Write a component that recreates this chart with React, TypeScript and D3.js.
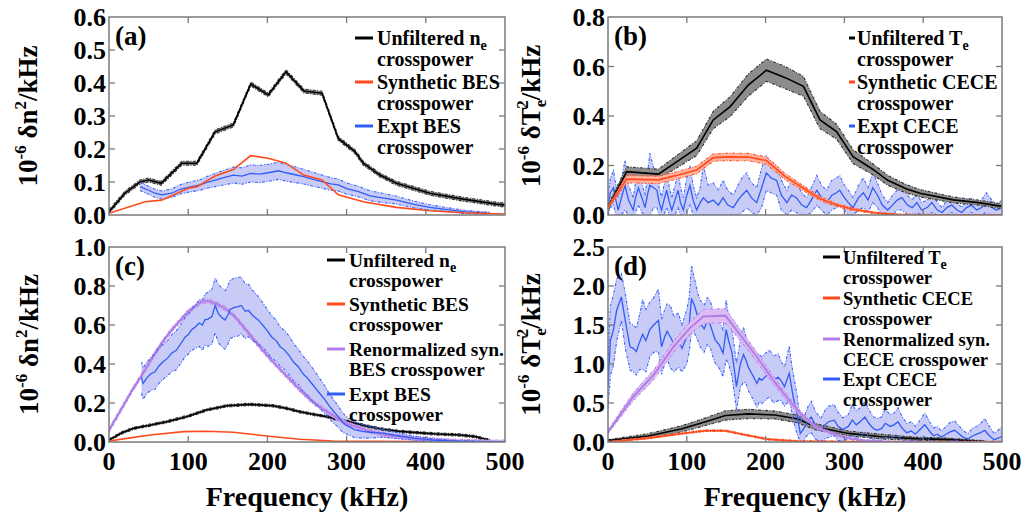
import React from 'react';
import * as d3 from 'd3';

const freqTicks = [0, 100, 200, 300, 400, 500];

// (a) density crosspower, 10^-6 dn^2/kHz
const aYTicks = [0, 0.1, 0.2, 0.3, 0.4, 0.5, 0.6];
const aUnfX = [0, 20, 39, 50, 66, 92, 111, 134, 157, 179, 201, 223.5, 246, 269, 289.5, 310.6, 321, 342, 363, 405, 447, 489, 500];
const aUnfY = [0.01, 0.066, 0.1, 0.106, 0.096, 0.157, 0.157, 0.252, 0.273, 0.397, 0.364, 0.434, 0.376, 0.369, 0.232, 0.192, 0.157, 0.121, 0.096, 0.066, 0.048, 0.033, 0.03];
const aUnfErr = 0.006;
const aSynX = [0, 45.5, 66.5, 100, 111, 134, 157, 179, 201, 223.5, 246, 269, 289.5, 321, 363, 405, 447, 500];
const aSynY = [0.005, 0.04, 0.045, 0.081, 0.086, 0.118, 0.138, 0.18, 0.172, 0.157, 0.121, 0.106, 0.061, 0.04, 0.023, 0.013, 0.007, 0.003];
const aExpX = [39, 50, 58, 66.5, 79, 90, 100, 115, 125, 134, 145, 157, 168, 179, 190, 201, 214, 223.5, 235, 246, 258, 269, 280, 289.5, 300, 315, 330, 345, 363, 385, 405, 425, 447, 465, 481];
const aExpY = [0.086, 0.075, 0.066, 0.061, 0.066, 0.078, 0.084, 0.091, 0.1, 0.106, 0.113, 0.121, 0.118, 0.126, 0.124, 0.128, 0.134, 0.128, 0.122, 0.116, 0.108, 0.101, 0.094, 0.091, 0.08, 0.071, 0.058, 0.052, 0.045, 0.032, 0.023, 0.017, 0.01, 0.007, 0.005];
const aExpErr = [0.012, 0.012, 0.012, 0.012, 0.013, 0.014, 0.015, 0.016, 0.018, 0.02, 0.022, 0.024, 0.025, 0.026, 0.026, 0.026, 0.026, 0.025, 0.024, 0.022, 0.021, 0.02, 0.019, 0.018, 0.017, 0.016, 0.015, 0.014, 0.012, 0.01, 0.008, 0.006, 0.005, 0.004, 0.003];

// (b) temperature crosspower, 10^-6 dTe^2/kHz
const bYTicks = [0, 0.2, 0.4, 0.6, 0.8];
const bUnfX = [0, 23.7, 64, 87, 112.5, 133.6, 155, 178, 201, 225, 248, 269, 290, 311, 336, 355, 379, 396, 438, 470, 500];
const bUnfY = [0.03, 0.175, 0.165, 0.215, 0.27, 0.384, 0.438, 0.525, 0.585, 0.555, 0.52, 0.384, 0.337, 0.236, 0.185, 0.14, 0.105, 0.088, 0.061, 0.05, 0.035];
const bUnfErr = [0.01, 0.02, 0.02, 0.025, 0.03, 0.035, 0.04, 0.045, 0.045, 0.045, 0.04, 0.035, 0.03, 0.028, 0.022, 0.02, 0.017, 0.015, 0.012, 0.01, 0.01];
const bSynX = [0, 23.7, 64, 87, 112.5, 133.6, 155, 178, 201, 225, 248, 269, 290, 311, 340, 368, 420, 500];
const bSynY = [0.03, 0.145, 0.142, 0.16, 0.182, 0.232, 0.235, 0.234, 0.22, 0.155, 0.108, 0.067, 0.04, 0.023, 0.008, 0.002, 0.001, 0.001];
const bSynErr = [0.005, 0.015, 0.015, 0.015, 0.015, 0.015, 0.015, 0.015, 0.015, 0.012, 0.01, 0.008, 0.006, 0.005, 0.003, 0.002, 0.001, 0.001];
const bExpX = [0, 3, 7, 10, 13, 17, 21.6, 26, 32, 35, 38.5, 43, 47, 50, 53, 58, 62, 65, 68, 71, 74.5, 78, 81, 85, 89, 92, 95.6, 100, 104, 108, 112.5, 117, 121, 127, 133.7, 140, 146, 152, 159, 165, 170, 176, 182, 188.7, 195, 201, 207, 214, 220, 227, 233, 239, 246, 252, 258, 265, 271, 277.5, 284, 290, 294, 300, 305, 311, 318, 324, 330, 336, 342, 348, 355, 361, 367, 373, 380, 386, 392, 398, 405, 411, 418, 424, 430, 436, 443, 449, 455, 461, 468, 474, 480, 487, 493, 500];
const bExpY = [0.04, 0.09, 0.11, 0.06, 0.02, 0.07, 0.12, 0.06, 0.02, 0.07, 0.11, 0.07, 0.03, 0.08, 0.12, 0.11, 0.1, 0.05, 0.02, 0.06, 0.1, 0.05, 0.02, 0.06, 0.1, 0.05, 0.02, 0.08, 0.12, 0.06, 0.02, 0.05, 0.07, 0.05, 0.06, 0.04, 0.07, 0.04, 0.03, 0.06, 0.08, 0.1, 0.07, 0.05, 0.11, 0.17, 0.15, 0.14, 0.08, 0.05, 0.08, 0.07, 0.04, 0.03, 0.06, 0.1, 0.07, 0.05, 0.08, 0.09, 0.1, 0.07, 0.05, 0.03, 0.07, 0.09, 0.06, 0.11, 0.08, 0.04, 0.02, 0.04, 0.06, 0.07, 0.04, 0.03, 0.05, 0.02, 0.03, 0.05, 0.02, 0.01, 0.03, 0.04, 0.02, 0.01, 0.03, 0.04, 0.02, 0.03, 0.05, 0.03, 0.02, 0.03];
const bExpErr = [0.04, 0.06, 0.07, 0.06, 0.05, 0.07, 0.1, 0.06, 0.05, 0.06, 0.07, 0.06, 0.05, 0.08, 0.13, 0.08, 0.07, 0.06, 0.05, 0.06, 0.07, 0.06, 0.05, 0.06, 0.07, 0.06, 0.05, 0.07, 0.08, 0.06, 0.05, 0.06, 0.13, 0.07, 0.07, 0.06, 0.07, 0.06, 0.05, 0.06, 0.07, 0.07, 0.06, 0.06, 0.08, 0.07, 0.06, 0.06, 0.06, 0.05, 0.06, 0.06, 0.05, 0.04, 0.05, 0.06, 0.05, 0.05, 0.06, 0.06, 0.06, 0.05, 0.05, 0.04, 0.05, 0.06, 0.05, 0.06, 0.05, 0.04, 0.03, 0.04, 0.04, 0.05, 0.04, 0.03, 0.04, 0.03, 0.03, 0.04, 0.03, 0.02, 0.03, 0.03, 0.03, 0.02, 0.03, 0.03, 0.02, 0.03, 0.04, 0.03, 0.02, 0.03];

// (c) density crosspower with renormalized synthetic
const cYTicks = [0, 0.2, 0.4, 0.6, 0.8, 1.0];
const cUnfX = [0, 15, 31, 50, 73, 98, 123, 149, 178, 207, 225, 241, 258, 275, 290, 308, 325, 346, 365, 388, 410, 443, 462, 477, 481];
const cUnfY = [0.01, 0.045, 0.07, 0.085, 0.104, 0.13, 0.164, 0.186, 0.193, 0.186, 0.172, 0.155, 0.142, 0.13, 0.115, 0.099, 0.082, 0.065, 0.055, 0.048, 0.042, 0.036, 0.028, 0.012, 0.01];
const cUnfErr = 0.006;
const cSynX = [0, 25, 52, 94, 123, 157, 199, 241, 283, 330, 400, 500];
const cSynY = [0.005, 0.02, 0.036, 0.053, 0.055, 0.05, 0.031, 0.014, 0.005, 0.003, 0.002, 0.001];
const cRenX = [0, 10, 20, 30, 41, 50, 58, 68, 79, 90, 100, 110, 117, 125, 135, 146.5, 159, 170, 180, 192, 205, 218, 231, 243, 256, 268, 281, 300, 325, 350, 388, 431, 470, 500];
const cRenY = [0.06, 0.13, 0.2, 0.27, 0.34, 0.4, 0.455, 0.515, 0.574, 0.624, 0.668, 0.7, 0.72, 0.723, 0.71, 0.686, 0.643, 0.59, 0.54, 0.48, 0.42, 0.365, 0.31, 0.26, 0.21, 0.175, 0.14, 0.095, 0.06, 0.035, 0.018, 0.005, 0.001, 0];
const cRenErr = 0.01;
const cExpX = [41, 43, 48, 53, 58, 63, 68, 74, 79, 85, 90, 96.5, 100, 104, 109, 114, 118, 121, 125, 130, 134, 138, 142, 146.5, 150, 153, 158, 163, 167, 172, 176, 181, 188.5, 194, 200, 205, 211, 216, 222, 228, 233, 239, 245, 250, 256, 262, 267, 273, 278, 284, 289.5, 295, 300, 310.6, 320, 330, 346, 365, 385, 409, 440, 470, 500];
const cExpY = [0.33, 0.3, 0.33, 0.35, 0.36, 0.39, 0.41, 0.43, 0.455, 0.47, 0.5, 0.54, 0.55, 0.574, 0.59, 0.61, 0.6, 0.626, 0.63, 0.643, 0.7, 0.66, 0.64, 0.626, 0.65, 0.68, 0.69, 0.694, 0.7, 0.67, 0.675, 0.65, 0.626, 0.6, 0.57, 0.54, 0.52, 0.49, 0.47, 0.44, 0.41, 0.386, 0.35, 0.33, 0.3, 0.27, 0.245, 0.215, 0.185, 0.155, 0.13, 0.1, 0.085, 0.062, 0.055, 0.05, 0.045, 0.032, 0.02, 0.01, 0.004, 0.002, 0.001];
const cExpErr = [0.08, 0.08, 0.08, 0.085, 0.09, 0.09, 0.09, 0.09, 0.095, 0.1, 0.1, 0.1, 0.1, 0.105, 0.11, 0.12, 0.13, 0.13, 0.14, 0.14, 0.14, 0.15, 0.15, 0.15, 0.15, 0.15, 0.15, 0.15, 0.145, 0.14, 0.135, 0.13, 0.12, 0.115, 0.11, 0.11, 0.105, 0.1, 0.1, 0.1, 0.095, 0.09, 0.09, 0.088, 0.085, 0.08, 0.075, 0.07, 0.065, 0.06, 0.055, 0.05, 0.045, 0.04, 0.035, 0.03, 0.02, 0.015, 0.01, 0.006, 0.003, 0.002, 0.001];

// (d) temperature crosspower with renormalized synthetic
const dYTicks = [0, 0.5, 1.0, 1.5, 2.0, 2.5];
const dUnfX = [0, 51, 94, 127, 149, 178, 212, 241, 263, 305, 347, 390, 432, 478];
const dUnfY = [0.02, 0.077, 0.17, 0.27, 0.34, 0.36, 0.346, 0.295, 0.196, 0.11, 0.068, 0.043, 0.03, 0.005];
const dUnfErr = [0.01, 0.03, 0.04, 0.05, 0.06, 0.06, 0.05, 0.05, 0.04, 0.03, 0.03, 0.02, 0.02, 0.01];
const dSynX = [0, 51, 94, 123, 149, 170, 203, 241, 300, 500];
const dSynY = [0, 0.05, 0.11, 0.145, 0.145, 0.1, 0.035, 0.01, 0.004, 0.003];
const dSynErr = 0.01;
const dRenX = [0, 32, 58, 83, 104, 121, 149, 168, 189, 210, 231, 244, 263, 284, 305, 326, 350, 400, 500];
const dRenY = [0.13, 0.58, 0.86, 1.22, 1.46, 1.61, 1.62, 1.37, 1.09, 0.79, 0.52, 0.37, 0.196, 0.11, 0.047, 0.02, 0.005, 0, 0];
const dRenErr = [0.02, 0.05, 0.06, 0.07, 0.08, 0.09, 0.09, 0.07, 0.06, 0.05, 0.04, 0.03, 0.02, 0.015, 0.01, 0.01, 0.005, 0, 0];
const dExpX = [0, 3, 7, 11, 17, 22, 28, 32, 36, 40, 44, 48, 53, 58, 64, 68, 72, 75, 79, 84, 89, 94, 100, 103, 106, 110, 114, 117, 122, 126, 130, 133, 136, 141, 146, 150, 153, 157, 160, 163, 168, 172, 175, 178, 184, 189, 192, 195, 200, 205, 210, 216, 220, 224, 230, 233, 235, 240, 244, 247, 250, 254, 258, 263, 270, 275, 280, 287, 292, 298, 305, 310, 315, 320, 326, 331, 336, 341, 347, 352, 358, 363, 368, 373, 379, 385, 390, 396, 402, 408, 413, 418, 423, 429, 434, 440, 446, 451, 457, 463, 468, 473, 478, 484, 490, 495, 500];
const dExpY = [0.72, 1.3, 1.44, 1.69, 1.86, 1.55, 1.22, 1.2, 1.16, 1.28, 1.38, 1.3, 1.44, 1.5, 1.56, 1.22, 1.35, 1.42, 1.35, 1.25, 1.31, 1.2, 1.35, 1.5, 1.84, 1.74, 1.6, 1.52, 1.45, 1.55, 1.5, 1.4, 1.31, 1.25, 1.14, 1.44, 1.3, 1.16, 0.95, 0.71, 1.0, 1.12, 1.05, 0.96, 0.85, 0.75, 0.82, 0.79, 0.84, 0.88, 0.8, 0.83, 0.78, 0.71, 0.88, 0.7, 0.58, 0.35, 0.11, 0.15, 0.2, 0.28, 0.32, 0.22, 0.15, 0.22, 0.26, 0.28, 0.2, 0.16, 0.2, 0.28, 0.22, 0.26, 0.32, 0.24, 0.18, 0.15, 0.17, 0.24, 0.2, 0.22, 0.26, 0.18, 0.12, 0.14, 0.1, 0.16, 0.22, 0.14, 0.08, 0.1, 0.06, 0.1, 0.13, 0.15, 0.1, 0.06, 0.04, 0.08, 0.1, 0.12, 0.15, 0.08, 0.03, 0.05, 0.07];
const dExpErr = [0.3, 0.45, 0.45, 0.4, 0.3, 0.35, 0.3, 0.3, 0.3, 0.35, 0.45, 0.4, 0.35, 0.35, 0.4, 0.35, 0.35, 0.35, 0.4, 0.35, 0.35, 0.3, 0.35, 0.35, 0.42, 0.35, 0.3, 0.3, 0.3, 0.3, 0.3, 0.3, 0.3, 0.3, 0.3, 0.38, 0.3, 0.3, 0.3, 0.3, 0.3, 0.35, 0.3, 0.3, 0.3, 0.3, 0.3, 0.3, 0.3, 0.3, 0.3, 0.3, 0.25, 0.25, 0.35, 0.3, 0.3, 0.25, 0.15, 0.15, 0.15, 0.18, 0.2, 0.18, 0.15, 0.18, 0.2, 0.2, 0.18, 0.15, 0.15, 0.2, 0.18, 0.18, 0.2, 0.18, 0.15, 0.15, 0.15, 0.18, 0.15, 0.15, 0.18, 0.15, 0.12, 0.12, 0.1, 0.12, 0.15, 0.12, 0.1, 0.1, 0.08, 0.1, 0.12, 0.12, 0.1, 0.08, 0.07, 0.1, 0.1, 0.12, 0.15, 0.12, 0.08, 0.1, 0.12];

const FONT = '"Liberation Serif", "Times New Roman", Times, "DejaVu Serif", serif';

const styles = {
  black: { color: '#000', fill: '#8c8c8c', edge: '#333', width: 1.6 },
  red: { color: '#ff4a1c', fill: '#ffb3a0', edge: '#ff5a30', width: 1.6 },
  blue: { color: '#2f5cf5', fill: '#c9cbf7', edge: '#3c66ff', width: 1.3 },
  purple: { color: '#b07ee6', fill: '#dcbcf3', edge: '#b889ea', width: 2 },
};

type Series = { x: number[]; y: number[]; err: number | number[]; style: keyof typeof styles };

const Marks = ({ s, xs, ys, part }) => {
  const st = styles[s.style];
  const pts = s.x.map((v, i) => ({ x: v, y: s.y[i], e: typeof s.err === 'number' ? s.err : s.err[i] }));
  const hasBand = pts.some(p => p.e > 0);
  const area = d3.area<any>().x(d => xs(d.x)).y0(d => ys(Math.max(0, d.y - d.e))).y1(d => ys(d.y + d.e));
  const up = d3.line<any>().x(d => xs(d.x)).y(d => ys(d.y + d.e));
  const lo = d3.line<any>().x(d => xs(d.x)).y(d => ys(Math.max(0, d.y - d.e)));
  const mid = d3.line<any>().x(d => xs(d.x)).y(d => ys(d.y));
  return (
    <g>
      {hasBand && part !== 'lines' && <path d={area(pts)} fill={st.fill} />}
      {part !== 'band' && hasBand && (
        <>
          <path d={up(pts)} fill="none" stroke={st.edge} strokeWidth={1.1} strokeDasharray="3 1.5 1 1.5" />
          <path d={lo(pts)} fill="none" stroke={st.edge} strokeWidth={1.1} strokeDasharray="3 1.5 1 1.5" />
        </>
      )}
      {part !== 'band' && <path d={mid(pts)} fill="none" stroke={st.color} strokeWidth={st.width} />}
    </g>
  );
};

const panels = [
  {
    id: 'a', left: 109, right: 505, top: 17, bottom: 215, yMax: 0.6, yTicks: aYTicks, fmt: '.1f', xLabels: false,
    ylab: 'n', ylabX: 37, label: '(a)',
    draw: [
      { s: { x: aUnfX, y: aUnfY, err: aUnfErr, style: 'black' }, part: 'all' },
      { s: { x: aExpX, y: aExpY, err: aExpErr, style: 'blue' }, part: 'all' },
      { s: { x: aSynX, y: aSynY, err: 0, style: 'red' }, part: 'all' },
    ],
    legend: {
      mx: [355, 373], tx: 377, size: 20, y: [45, 89, 133], gap: 21,
      items: [
        { style: 'black', first: 'Unfiltered n', sub: 'e', second: 'crosspower' },
        { style: 'red', first: 'Synthetic BES', second: 'crosspower' },
        { style: 'blue', first: 'Expt BES', second: 'crosspower' },
      ],
    },
  },
  {
    id: 'b', left: 608, right: 1002, top: 17, bottom: 215, yMax: 0.8, yTicks: bYTicks, fmt: '.1f', xLabels: false,
    ylab: 'T', ylabX: 540, label: '(b)',
    draw: [
      { s: { x: bExpX, y: bExpY, err: bExpErr, style: 'blue' }, part: 'all' },
      { s: { x: bUnfX, y: bUnfY, err: bUnfErr, style: 'black' }, part: 'all' },
      { s: { x: bSynX, y: bSynY, err: bSynErr, style: 'red' }, part: 'all' },
    ],
    legend: {
      mx: [849, 855], tx: 857, size: 20, y: [45, 89, 133], gap: 21,
      items: [
        { style: 'black', first: 'Unfiltered T', sub: 'e', second: 'crosspower' },
        { style: 'red', first: 'Synthetic CECE', second: 'crosspower' },
        { style: 'blue', first: 'Expt CECE', second: 'crosspower' },
      ],
    },
  },
  {
    id: 'c', left: 109, right: 505, top: 247, bottom: 442, yMax: 1.0, yTicks: cYTicks, fmt: '.1f', xLabels: true,
    ylab: 'n', ylabX: 38, label: '(c)',
    draw: [
      { s: { x: cExpX, y: cExpY, err: cExpErr, style: 'blue' }, part: 'band' },
      { s: { x: cUnfX, y: cUnfY, err: cUnfErr, style: 'black' }, part: 'all' },
      { s: { x: cSynX, y: cSynY, err: 0, style: 'red' }, part: 'all' },
      { s: { x: cRenX, y: cRenY, err: cRenErr, style: 'purple' }, part: 'all' },
      { s: { x: cExpX, y: cExpY, err: cExpErr, style: 'blue' }, part: 'lines' },
    ],
    legend: {
      mx: [327, 345], tx: 349, size: 19.5, y: [267, 311, 356, 401], gap: 20,
      items: [
        { style: 'black', first: 'Unfiltered n', sub: 'e', second: 'crosspower' },
        { style: 'red', first: 'Synthetic BES', second: 'crosspower' },
        { style: 'purple', first: 'Renormalized syn.', second: 'BES crosspower' },
        { style: 'blue', first: 'Expt BES', second: 'crosspower' },
      ],
    },
  },
  {
    id: 'd', left: 608, right: 1002, top: 247, bottom: 442, yMax: 2.5, yTicks: dYTicks, fmt: '.1f', xLabels: true,
    ylab: 'T', ylabX: 540, label: '(d)',
    draw: [
      { s: { x: dExpX, y: dExpY, err: dExpErr, style: 'blue' }, part: 'band' },
      { s: { x: dUnfX, y: dUnfY, err: dUnfErr, style: 'black' }, part: 'all' },
      { s: { x: dSynX, y: dSynY, err: dSynErr, style: 'red' }, part: 'all' },
      { s: { x: dExpX, y: dExpY, err: dExpErr, style: 'blue' }, part: 'lines' },
      { s: { x: dRenX, y: dRenY, err: dRenErr, style: 'purple' }, part: 'all' },
    ],
    legend: {
      mx: [823, 840], tx: 843, size: 18.5, y: [264, 305, 346, 386], gap: 19.5,
      items: [
        { style: 'black', first: 'Unfiltered T', sub: 'e', second: 'crosspower' },
        { style: 'red', first: 'Synthetic CECE', second: 'crosspower' },
        { style: 'purple', first: 'Renormalized syn.', second: 'CECE crosspower' },
        { style: 'blue', first: 'Expt CECE', second: 'crosspower' },
      ],
    },
  },
];

const txt = { fontFamily: FONT, fontWeight: 700 };

const YLabel = ({ kind, x, y }) => (
  <text transform={`translate(${x},${y}) rotate(-90)`} textAnchor="middle" fontSize={27} style={txt}>
    10<tspan dy={-11} fontSize={17}>-6</tspan>
    <tspan dy={11}> δ{kind}</tspan>
    {kind === 'T' ? (
      <>
        <tspan dy={6} fontSize={17}>e</tspan>
        <tspan dx={-9} dy={-18} fontSize={17}>2</tspan>
        <tspan dy={12}>/kHz</tspan>
      </>
    ) : (
      <>
        <tspan dy={-11} fontSize={17}>2</tspan>
        <tspan dy={11}>/kHz</tspan>
      </>
    )}
  </text>
);

const Panel = ({ p }) => {
  const xs = d3.scaleLinear().domain([0, 500]).range([p.left, p.right]);
  const ys = d3.scaleLinear().domain([0, p.yMax]).range([p.bottom, p.top]);
  const fmt = d3.format(p.fmt);
  const tick = 6;
  const axis = '#7a7a7a';
  const lg = p.legend;
  return (
    <g>
      <defs>
        <clipPath id={`clip-${p.id}`}>
          <rect x={p.left} y={p.top} width={p.right - p.left} height={p.bottom - p.top} />
        </clipPath>
      </defs>
      <g clipPath={`url(#clip-${p.id})`}>
        {p.draw.map((d, i) => <Marks key={i} s={d.s} xs={xs} ys={ys} part={d.part} />)}
      </g>
      <rect x={p.left} y={p.top} width={p.right - p.left} height={p.bottom - p.top} fill="none" stroke={axis} strokeWidth={1.5} />
      {freqTicks.slice(1, -1).map(t => (
        <g key={t} stroke={axis} strokeWidth={1.3}>
          <line x1={xs(t)} x2={xs(t)} y1={p.bottom} y2={p.bottom - tick} />
          <line x1={xs(t)} x2={xs(t)} y1={p.top} y2={p.top + tick} />
        </g>
      ))}
      {p.yTicks.slice(1, -1).map(t => (
        <g key={t} stroke={axis} strokeWidth={1.3}>
          <line x1={p.left} x2={p.left + tick} y1={ys(t)} y2={ys(t)} />
          <line x1={p.right} x2={p.right - tick} y1={ys(t)} y2={ys(t)} />
        </g>
      ))}
      {p.yTicks.map(t => (
        <text key={t} x={p.left - 3} y={ys(t)} dy="0.35em" textAnchor="end" fontSize={26} style={txt}>
          {fmt(t)}
        </text>
      ))}
      {p.xLabels && freqTicks.map(t => (
        <text key={t} x={xs(t)} y={470} textAnchor="middle" fontSize={26} style={txt}>{t}</text>
      ))}
      {p.xLabels && (
        <text x={(p.left + p.right) / 2} y={506} textAnchor="middle" fontSize={28} style={txt}>
          Frequency (kHz)
        </text>
      )}
      <YLabel kind={p.ylab} x={p.ylabX} y={(p.top + p.bottom) / 2} />
      <text x={p.left + 6} y={p.top + 28} fontSize={27} style={txt}>{p.label}</text>
      {lg.items.map((it, i) => (
        <g key={i}>
          <line x1={lg.mx[0]} x2={lg.mx[1]} y1={lg.y[i] - 7} y2={lg.y[i] - 7} stroke={styles[it.style].color} strokeWidth={3} />
          <text x={lg.tx} y={lg.y[i]} fontSize={lg.size} style={txt}>
            {it.first}
            {it.sub && <tspan dy={5} fontSize={14}>{it.sub}</tspan>}
            <tspan x={lg.tx} dy={it.sub ? lg.gap - 5 : lg.gap}>{it.second}</tspan>
          </text>
        </g>
      ))}
    </g>
  );
};

export default function App() {
  return (
    <svg width={1030} height={520} style={{ position: 'absolute', left: 0, top: 0, background: '#fff' }}>
      {panels.map(p => <Panel key={p.id} p={p} />)}
    </svg>
  );
}
